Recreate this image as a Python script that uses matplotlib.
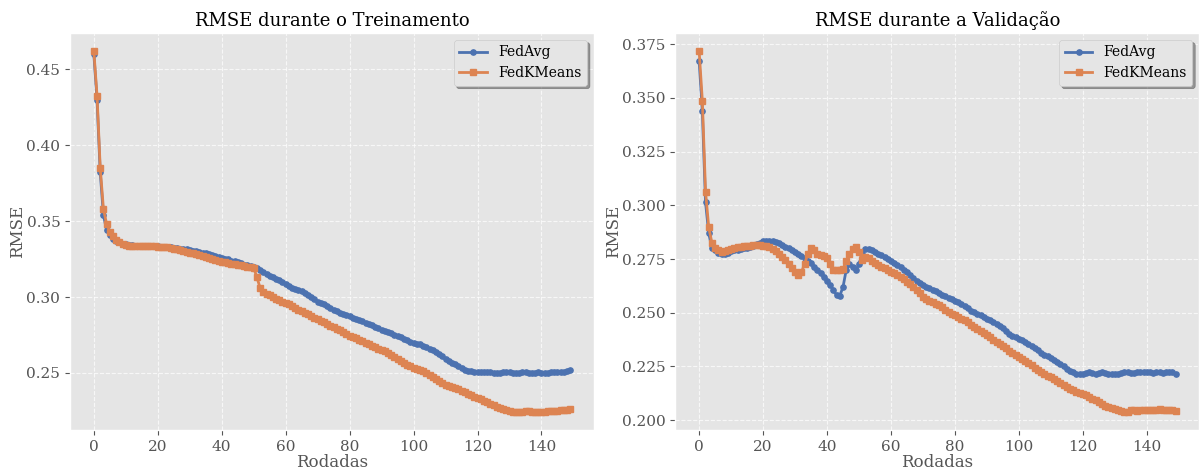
import matplotlib
matplotlib.use("Agg")
import matplotlib.pyplot as plt
import numpy as np

rodadas = np.arange(150)

treino_fedavg = [
    0.4600, 0.4300, 0.3820, 0.3540, 0.3440, 0.3410, 0.3385, 0.3370, 0.3360, 0.3352,
    0.3347, 0.3343, 0.3340, 0.3338, 0.3337, 0.3336, 0.3335, 0.3335, 0.3334, 0.3334,
    0.3333, 0.3332, 0.3331, 0.3329, 0.3327, 0.3325, 0.3322, 0.3319, 0.3316, 0.3313,
    0.3309, 0.3305, 0.3301, 0.3297, 0.3292, 0.3287, 0.3282, 0.3277, 0.3271, 0.3265,
    0.3259, 0.3253, 0.3247, 0.3240, 0.3234, 0.3228, 0.3221, 0.3214, 0.3208, 0.3203,
    0.3198, 0.3190, 0.3178, 0.3165, 0.3150, 0.3140, 0.3130, 0.3118, 0.3110, 0.3098,
    0.3085, 0.3070, 0.3060, 0.3055, 0.3047, 0.3040, 0.3028, 0.3012, 0.2998, 0.2985,
    0.2970, 0.2962, 0.2952, 0.2940, 0.2928, 0.2915, 0.2905, 0.2897, 0.2890, 0.2882,
    0.2873, 0.2865, 0.2858, 0.2850, 0.2840, 0.2830, 0.2822, 0.2815, 0.2805, 0.2795,
    0.2785, 0.2778, 0.2770, 0.2760, 0.2750, 0.2742, 0.2735, 0.2725, 0.2715, 0.2705,
    0.2697, 0.2692, 0.2688, 0.2680, 0.2670, 0.2660, 0.2650, 0.2638, 0.2625, 0.2610,
    0.2590, 0.2578, 0.2568, 0.2558, 0.2545, 0.2532, 0.2520, 0.2512, 0.2510, 0.2508,
    0.2508, 0.2509, 0.2508, 0.2507, 0.2505, 0.2502, 0.2500, 0.2503, 0.2507, 0.2508,
    0.2505, 0.2500, 0.2498, 0.2502, 0.2506, 0.2505, 0.2501, 0.2499, 0.2503, 0.2504,
    0.2502, 0.2500, 0.2502, 0.2505, 0.2506, 0.2507, 0.2508, 0.2509, 0.2512, 0.2518,
]

treino_fedkmeans = [
    0.4620, 0.4325, 0.3850, 0.3580, 0.3480, 0.3430, 0.3400, 0.3375, 0.3360, 0.3350,
    0.3343, 0.3338, 0.3336, 0.3335, 0.3335, 0.3334, 0.3334, 0.3334, 0.3334, 0.3333,
    0.3332, 0.3331, 0.3329, 0.3326, 0.3322, 0.3318, 0.3313, 0.3307, 0.3301, 0.3297,
    0.3292, 0.3287, 0.3281, 0.3274, 0.3268, 0.3262, 0.3256, 0.3250, 0.3244, 0.3238,
    0.3233, 0.3228, 0.3224, 0.3220, 0.3216, 0.3212, 0.3208, 0.3204, 0.3200, 0.3196,
    0.3192, 0.3130, 0.3060, 0.3035, 0.3020, 0.3010, 0.3000, 0.2990, 0.2980, 0.2970,
    0.2962, 0.2952, 0.2940, 0.2928, 0.2915, 0.2905, 0.2895, 0.2885, 0.2875, 0.2865,
    0.2855, 0.2845, 0.2835, 0.2823, 0.2810, 0.2800, 0.2790, 0.2780, 0.2770, 0.2758,
    0.2745, 0.2737, 0.2728, 0.2718, 0.2708, 0.2698, 0.2690, 0.2680, 0.2670, 0.2660,
    0.2650, 0.2642, 0.2630, 0.2618, 0.2605, 0.2592, 0.2580, 0.2567, 0.2555, 0.2545,
    0.2535, 0.2528, 0.2520, 0.2510, 0.2498, 0.2485, 0.2472, 0.2460, 0.2448, 0.2435,
    0.2423, 0.2415, 0.2408, 0.2400, 0.2392, 0.2382, 0.2372, 0.2362, 0.2352, 0.2343,
    0.2335, 0.2327, 0.2318, 0.2308, 0.2298, 0.2288, 0.2278, 0.2270, 0.2262, 0.2255,
    0.2250, 0.2246, 0.2244, 0.2243, 0.2246, 0.2250, 0.2248, 0.2244, 0.2245, 0.2246,
    0.2244, 0.2245, 0.2248, 0.2250, 0.2252, 0.2252, 0.2254, 0.2256, 0.2258, 0.2265,
]

val_fedavg = [
    0.3672, 0.3440, 0.3014, 0.2870, 0.2800, 0.2792, 0.2780, 0.2775, 0.2774, 0.2780,
    0.2788, 0.2792, 0.2793, 0.2797, 0.2800, 0.2803, 0.2807, 0.2812, 0.2820, 0.2826,
    0.2832, 0.2834, 0.2834, 0.2833, 0.2830, 0.2825, 0.2815, 0.2808, 0.2800, 0.2792,
    0.2783, 0.2775, 0.2765, 0.2755, 0.2742, 0.2730, 0.2715, 0.2700, 0.2685, 0.2668,
    0.2650, 0.2630, 0.2605, 0.2582, 0.2580, 0.2620, 0.2700, 0.2728, 0.2712, 0.2697,
    0.2728, 0.2775, 0.2795, 0.2798, 0.2790, 0.2782, 0.2775, 0.2767, 0.2758, 0.2750,
    0.2742, 0.2732, 0.2722, 0.2712, 0.2700, 0.2688, 0.2675, 0.2662, 0.2650, 0.2638,
    0.2628, 0.2620, 0.2615, 0.2608, 0.2600, 0.2593, 0.2585, 0.2578, 0.2570, 0.2563,
    0.2557, 0.2548, 0.2540, 0.2530, 0.2520, 0.2510, 0.2502, 0.2495, 0.2488, 0.2480,
    0.2471, 0.2465, 0.2458, 0.2450, 0.2440, 0.2428, 0.2415, 0.2403, 0.2393, 0.2385,
    0.2378, 0.2372, 0.2365, 0.2355, 0.2345, 0.2335, 0.2325, 0.2315, 0.2305, 0.2298,
    0.2290, 0.2282, 0.2272, 0.2260, 0.2250, 0.2240, 0.2230, 0.2222, 0.2216, 0.2214,
    0.2216, 0.2220, 0.2222, 0.2220, 0.2217, 0.2220, 0.2222, 0.2219, 0.2217, 0.2215,
    0.2213, 0.2216, 0.2220, 0.2222, 0.2223, 0.2220, 0.2221, 0.2223, 0.2224, 0.2225,
    0.2225, 0.2222, 0.2220, 0.2224, 0.2222, 0.2218, 0.2224, 0.2225, 0.2222, 0.2217,
]

val_fedkmeans = [
    0.3719, 0.3487, 0.3064, 0.2898, 0.2825, 0.2800, 0.2790, 0.2785, 0.2788, 0.2792,
    0.2797, 0.2801, 0.2804, 0.2807, 0.2810, 0.2812, 0.2813, 0.2814, 0.2815, 0.2814,
    0.2813, 0.2811, 0.2806, 0.2798, 0.2788, 0.2775, 0.2760, 0.2745, 0.2725, 0.2708,
    0.2690, 0.2675, 0.2690, 0.2728, 0.2775, 0.2803, 0.2790, 0.2775, 0.2770, 0.2765,
    0.2755, 0.2725, 0.2700, 0.2697, 0.2697, 0.2705, 0.2740, 0.2775, 0.2795, 0.2805,
    0.2785, 0.2748, 0.2760, 0.2755, 0.2740, 0.2730, 0.2722, 0.2715, 0.2708, 0.2700,
    0.2692, 0.2683, 0.2675, 0.2665, 0.2655, 0.2645, 0.2632, 0.2618, 0.2605, 0.2590,
    0.2575, 0.2565, 0.2557, 0.2550, 0.2542, 0.2535, 0.2525, 0.2515, 0.2505, 0.2496,
    0.2488, 0.2480, 0.2472, 0.2465, 0.2455, 0.2445, 0.2435, 0.2425, 0.2415, 0.2405,
    0.2395, 0.2385, 0.2375, 0.2365, 0.2355, 0.2345, 0.2335, 0.2323, 0.2312, 0.2302,
    0.2293, 0.2285, 0.2275, 0.2265, 0.2255, 0.2245, 0.2235, 0.2225, 0.2215, 0.2207,
    0.2200, 0.2192, 0.2183, 0.2175, 0.2165, 0.2155, 0.2147, 0.2140, 0.2133, 0.2128,
    0.2122, 0.2115, 0.2108, 0.2100, 0.2092, 0.2085, 0.2077, 0.2068, 0.2062, 0.2055,
    0.2050, 0.2045, 0.2041, 0.2038, 0.2040, 0.2045, 0.2046, 0.2044, 0.2045, 0.2046,
    0.2048, 0.2047, 0.2045, 0.2048, 0.2050, 0.2047, 0.2045, 0.2048, 0.2047, 0.2043,
]

plt.style.use('ggplot')
plt.rcParams['font.family'] = 'DejaVu Serif'

cor_avg = '#4C72B0'
cor_km = '#DD8452'

fig, axes = plt.subplots(1, 2, figsize=(12.03, 4.70), dpi=100)
fig.subplots_adjust(left=0.0582, right=0.997, top=0.93, bottom=0.085, wspace=0.155)

paineis = [
    (axes[0], treino_fedavg, treino_fedkmeans, 'RMSE durante o Treinamento'),
    (axes[1], val_fedavg, val_fedkmeans, 'RMSE durante a Validação'),
]

for ax, avg, km, titulo in paineis:
    ax.plot(rodadas, avg, marker='o', markersize=3.8, linewidth=2, color=cor_avg, label='FedAvg')
    ax.plot(rodadas, km, marker='s', markersize=3.8, linewidth=2, color=cor_km, label='FedKMeans')
    ax.set_title(titulo, fontsize=13, color='black', pad=5)
    ax.set_xlabel('Rodadas', fontsize=12, color='#555555', labelpad=0)
    ax.set_ylabel('RMSE', fontsize=12, color='#555555', labelpad=0)
    ax.tick_params(labelsize=11)
    ax.grid(True, linestyle='--', alpha=0.7)
    ax.legend(loc='upper right', shadow=True, fancybox=True, fontsize=10)

plt.savefig('out.png', dpi=100)
